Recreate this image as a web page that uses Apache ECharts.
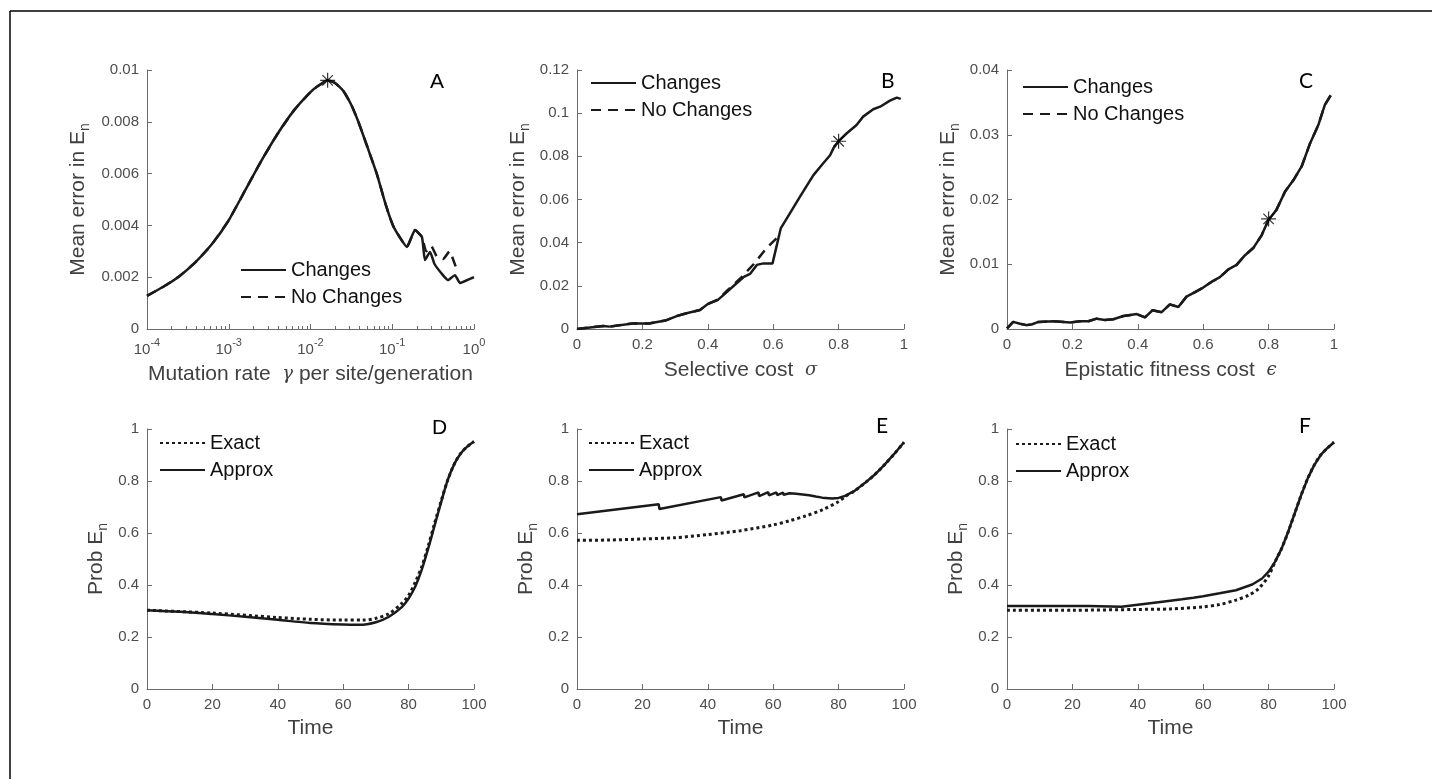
<!DOCTYPE html>
<html>
<head>
<meta charset="utf-8">
<script src="https://cdn.jsdelivr.net/npm/echarts@6/dist/echarts.min.js"></script>
<style>
html,body{margin:0;padding:0;background:#fff;}
#chart{width:1432px;height:779px;}
</style>
</head>
<body>
<div id="chart"></div>
<script>
// ---------------- DATA ----------------
// Panel A: mean error vs mutation rate (log x)
var aGamma      = [1e-4, 1.585e-4, 2.512e-4, 3.981e-4, 6.31e-4, 1e-3, 1.585e-3, 2.512e-3, 3.981e-3, 6.31e-3, 0.01, 0.01259, 0.0162, 0.01995, 0.0251, 0.0316, 0.0385, 0.05, 0.0646, 0.0832, 0.102, 0.126, 0.151, 0.19, 0.231, 0.251, 0.29, 0.33, 0.417, 0.48, 0.585, 0.674, 0.945, 1.0];
var aChanges    = [0.00128, 0.00163, 0.00205, 0.00260, 0.00330, 0.00420, 0.00535, 0.00650, 0.00755, 0.00845, 0.00915, 0.00940, 0.0096, 0.0095, 0.0092, 0.00865, 0.0080, 0.0070, 0.0060, 0.0048, 0.0040, 0.0035, 0.00317, 0.00382, 0.00355, 0.00266, 0.00297, 0.0025, 0.00208, 0.00189, 0.00208, 0.00178, 0.00197, 0.0020];
var aGammaNC    = [1e-4, 1.585e-4, 2.512e-4, 3.981e-4, 6.31e-4, 1e-3, 1.585e-3, 2.512e-3, 3.981e-3, 6.31e-3, 0.01, 0.01259, 0.0162, 0.01995, 0.0251, 0.0316, 0.0385, 0.05, 0.0646, 0.0832, 0.102, 0.126, 0.151, 0.19, 0.231, 0.26, 0.3, 0.35, 0.42, 0.5, 0.6, 0.65];
var aNoChanges  = [0.00128, 0.00163, 0.00205, 0.00260, 0.00330, 0.00420, 0.00535, 0.00650, 0.00755, 0.00845, 0.00915, 0.00940, 0.0096, 0.0095, 0.0092, 0.00865, 0.0080, 0.0070, 0.0060, 0.0048, 0.0040, 0.0035, 0.00317, 0.00382, 0.00355, 0.0030, 0.0032, 0.0028, 0.0027, 0.0030, 0.0024, 0.0022];
var aStar       = [0.0162, 0.0096];

// Panel B: mean error vs selective cost
var bSigma      = [0, 0.08, 0.1, 0.17, 0.22, 0.27, 0.305, 0.335, 0.376, 0.4, 0.43, 0.458, 0.488, 0.509, 0.529, 0.55, 0.57, 0.598, 0.623, 0.651, 0.682, 0.723, 0.753, 0.774, 0.784, 0.8, 0.825, 0.855, 0.875, 0.906, 0.927, 0.957, 0.978, 0.99];
var bChanges    = [0, 0.0014, 0.0011, 0.0026, 0.0025, 0.0039, 0.006, 0.0073, 0.0088, 0.0116, 0.0134, 0.0171, 0.0212, 0.024, 0.0255, 0.0297, 0.0304, 0.0304, 0.0466, 0.0536, 0.0613, 0.0713, 0.0768, 0.0805, 0.0837, 0.087, 0.0907, 0.0945, 0.0984, 0.1018, 0.103, 0.1058, 0.1072, 0.1066];
var bSigmaNC    = [0, 0.08, 0.1, 0.17, 0.22, 0.27, 0.305, 0.335, 0.376, 0.4, 0.43, 0.458, 0.5, 0.54, 0.58, 0.61];
var bNoChanges  = [0, 0.0014, 0.0011, 0.0026, 0.0025, 0.0039, 0.006, 0.0073, 0.0088, 0.0116, 0.0136, 0.0176, 0.0235, 0.0300, 0.0375, 0.042];
var bStar       = [0.8, 0.087];

// Panel C: mean error vs epistatic fitness cost
var cEps        = [0, 0.019, 0.04, 0.06, 0.075, 0.096, 0.142, 0.193, 0.223, 0.249, 0.274, 0.3, 0.325, 0.356, 0.397, 0.422, 0.445, 0.473, 0.498, 0.524, 0.549, 0.575, 0.6, 0.626, 0.651, 0.677, 0.702, 0.728, 0.753, 0.779, 0.799, 0.824, 0.85, 0.876, 0.901, 0.927, 0.952, 0.972, 0.99];
var cChanges    = [0.0001, 0.0011, 0.0008, 0.0006, 0.0007, 0.0011, 0.0012, 0.0010, 0.0012, 0.0012, 0.0016, 0.0014, 0.0015, 0.0020, 0.0023, 0.0018, 0.0029, 0.0026, 0.0038, 0.0034, 0.0050, 0.0057, 0.0064, 0.0073, 0.0080, 0.0092, 0.0099, 0.0114, 0.0125, 0.0145, 0.0168, 0.0184, 0.0212, 0.0230, 0.0251, 0.0287, 0.0315, 0.0346, 0.0361];
var cNoChanges  = cChanges.slice();
var cStar       = [0.8, 0.017];

// Panel D
var dTimeApprox = [0, 10, 20, 30, 40, 50, 60, 65, 70, 74, 78, 80, 82, 84, 86, 88, 90, 92, 94, 96, 98, 100];
var dApprox     = [0.303, 0.297, 0.288, 0.278, 0.266, 0.254, 0.248, 0.247, 0.257, 0.278, 0.316, 0.348, 0.393, 0.458, 0.541, 0.631, 0.721, 0.805, 0.866, 0.907, 0.933, 0.952];
var dTimeExact  = [0, 20, 40, 50, 60, 66, 70, 74, 78, 80, 82, 84, 86, 88, 90, 92, 94, 96, 98, 100];
var dExact      = [0.303, 0.292, 0.275, 0.268, 0.265, 0.265, 0.272, 0.290, 0.330, 0.360, 0.410, 0.470, 0.550, 0.640, 0.725, 0.805, 0.866, 0.907, 0.933, 0.952];

// Panel E
var eTimeApprox = [0, 25, 25.2, 44, 44.2, 51, 51.2, 55.5, 55.7, 58.5, 58.7, 61, 61.2, 63, 63.2, 65, 65.2, 67, 67.2, 69, 69.2, 71, 71.2, 73, 75, 78, 80, 82, 85, 88, 91, 94, 97, 100];
var eApprox     = [0.672, 0.711, 0.692, 0.738, 0.725, 0.749, 0.737, 0.756, 0.742, 0.757, 0.745, 0.756, 0.746, 0.755, 0.747, 0.753, 0.746, 0.751, 0.745, 0.748, 0.742, 0.745, 0.740, 0.740, 0.736, 0.733, 0.735, 0.743, 0.763, 0.792, 0.824, 0.862, 0.904, 0.949];
var eTimeExact  = [0, 10, 20, 30, 40, 50, 60, 65, 70, 75, 80, 82, 85, 88, 91, 94, 97, 100];
var eExact      = [0.572, 0.573, 0.577, 0.582, 0.594, 0.609, 0.631, 0.647, 0.666, 0.689, 0.721, 0.740, 0.763, 0.792, 0.824, 0.862, 0.904, 0.949];

// Panel F
var fTimeApprox = [0, 25, 25.2, 35, 40, 47.5, 47.7, 53.5, 53.7, 57, 57.2, 60, 65, 70, 75, 78, 80, 82, 84, 86, 88, 90, 92, 94, 96, 98, 100];
var fApprox     = [0.319, 0.319, 0.313, 0.316, 0.324, 0.336, 0.331, 0.345, 0.340, 0.351, 0.347, 0.357, 0.368, 0.380, 0.402, 0.425, 0.451, 0.490, 0.541, 0.605, 0.676, 0.747, 0.811, 0.862, 0.901, 0.927, 0.949];
var fTimeExact  = [0, 20, 40, 50, 60, 65, 70, 74, 77, 80, 82, 84, 86, 88, 90, 92, 94, 96, 98, 100];
var fExact      = [0.303, 0.303, 0.306, 0.308, 0.316, 0.325, 0.342, 0.361, 0.387, 0.435, 0.490, 0.541, 0.605, 0.676, 0.747, 0.811, 0.862, 0.901, 0.927, 0.949];

// Tick values
var logMajorTicks = [1e-4, 1e-3, 1e-2, 1e-1, 1];
var logMinorTicks = [];
[1e-4, 1e-3, 1e-2, 1e-1].forEach(function (d) { for (var k = 2; k <= 9; k++) logMinorTicks.push(d * k); });

var panelLetters = ['A', 'B', 'C', 'D', 'E', 'F'];

// ---------------- HELPERS ----------------
function zip(xs, ys) { return xs.map(function (x, i) { return [x, ys[i]]; }); }

var INK = '#1a1a1a';
var AXC = '#6b6b6b';
var TICKC = '#4d4d4d';
var FONT = '"Liberation Sans", Arial, Helvetica, sans-serif';
var NAMEC = '#404040';
var NAMESIZE = 21;

var grids = [
  { left: 147, top: 70, width: 327, height: 259 },
  { left: 577, top: 70, width: 327, height: 259 },
  { left: 1007, top: 70, width: 327, height: 259 },
  { left: 147, top: 429, width: 327, height: 260 },
  { left: 577, top: 429, width: 327, height: 260 },
  { left: 1007, top: 429, width: 327, height: 260 }
];

function baseAxis(extra) {
  var a = {
    axisLine: { show: true, onZero: false, lineStyle: { color: AXC, width: 1 } },
    axisTick: { show: true, inside: true, length: 5, lineStyle: { color: AXC, width: 1 } },
    axisLabel: { color: TICKC, fontSize: 15, fontFamily: FONT, margin: 8 },
    splitLine: { show: false },
    nameTextStyle: { color: NAMEC, fontSize: NAMESIZE, fontFamily: FONT },
    nameLocation: 'middle'
  };
  for (var k in extra) a[k] = extra[k];
  return a;
}

var greek = { fontFamily: '"DejaVu Serif", serif', fontStyle: 'italic', fontSize: 18, color: NAMEC };
var mStyle = { fontSize: NAMESIZE, color: NAMEC, fontFamily: FONT };
var yRich = {
  m: { fontSize: NAMESIZE, color: NAMEC, fontFamily: FONT, lineHeight: 27, verticalAlign: 'middle' },
  s: { fontSize: 14, color: NAMEC, fontFamily: FONT, lineHeight: 14, verticalAlign: 'bottom' }
};

var xAxes = [
  baseAxis({ gridIndex: 0, type: 'log', logBase: 10, min: 1e-4, max: 1,
    name: '{m|Mutation rate  }{g|γ}{m| per site/generation}', nameGap: 35,
    nameTextStyle: { rich: { m: mStyle, g: greek } },
    axisLabel: { color: TICKC, fontSize: 15, fontFamily: FONT, margin: 8,
      formatter: function (v) { var e = Math.round(Math.log10(v)); return '{b|10}{s|' + e + '}'; },
      rich: { b: { fontSize: 15, color: TICKC, fontFamily: FONT, lineHeight: 20, verticalAlign: 'bottom' },
              s: { fontSize: 11, color: TICKC, fontFamily: FONT, lineHeight: 11, verticalAlign: 'top' } } },
    axisTick: { show: true, inside: true, length: 5, lineStyle: { color: AXC, width: 1 }, customValues: logMajorTicks },
    minorTick: { show: false } }),
  baseAxis({ gridIndex: 1, type: 'value', min: 0, max: 1, interval: 0.2,
    name: '{m|Selective cost  }{g|σ}', nameGap: 31,
    nameTextStyle: { rich: { m: mStyle, g: greek } } }),
  baseAxis({ gridIndex: 2, type: 'value', min: 0, max: 1, interval: 0.2,
    name: '{m|Epistatic fitness cost  }{g|ϵ}', nameGap: 31,
    nameTextStyle: { rich: { m: mStyle, g: greek } } }),
  baseAxis({ gridIndex: 3, type: 'value', min: 0, max: 100, interval: 20, name: 'Time', nameGap: 29 }),
  baseAxis({ gridIndex: 4, type: 'value', min: 0, max: 100, interval: 20, name: 'Time', nameGap: 29 }),
  baseAxis({ gridIndex: 5, type: 'value', min: 0, max: 100, interval: 20, name: 'Time', nameGap: 29 }),
  // minor ticks for log axis
  { gridIndex: 0, type: 'log', logBase: 10, min: 1e-4, max: 1, position: 'bottom',
    axisLine: { show: false }, axisLabel: { show: false }, splitLine: { show: false },
    axisTick: { show: true, inside: true, length: 3, lineStyle: { color: AXC, width: 1 }, customValues: logMinorTicks } }
];

function yName(t) { return '{m|' + t + '}{s|n}'; }
var yAxes = [
  baseAxis({ gridIndex: 0, type: 'value', min: 0, max: 0.01, interval: 0.002, name: yName('Mean error in E'), nameGap: 55, nameTextStyle: { rich: yRich } }),
  baseAxis({ gridIndex: 1, type: 'value', min: 0, max: 0.12, interval: 0.02, name: yName('Mean error in E'), nameGap: 45, nameTextStyle: { rich: yRich } }),
  baseAxis({ gridIndex: 2, type: 'value', min: 0, max: 0.04, interval: 0.01, name: yName('Mean error in E'), nameGap: 45, nameTextStyle: { rich: yRich } }),
  baseAxis({ gridIndex: 3, type: 'value', min: 0, max: 1, interval: 0.2, name: yName('Prob E'), nameGap: 37, nameTextStyle: { rich: yRich } }),
  baseAxis({ gridIndex: 4, type: 'value', min: 0, max: 1, interval: 0.2, name: yName('Prob E'), nameGap: 37, nameTextStyle: { rich: yRich } }),
  baseAxis({ gridIndex: 5, type: 'value', min: 0, max: 1, interval: 0.2, name: yName('Prob E'), nameGap: 37, nameTextStyle: { rich: yRich } })
];

function line(name, xi, yi, data, type, smooth, z, w) {
  return {
    name: name, type: 'line', xAxisIndex: xi, yAxisIndex: yi, data: data,
    showSymbol: false, symbol: 'none', smooth: smooth || false, silent: true, z: z || 2,
    lineStyle: { color: INK, width: w || 2.5, type: type }, itemStyle: { color: INK }
  };
}
var STAR = 'path://M10,0L10,20M0,10L20,10M3,3L17,17M3,17L17,3';
function star(xi, yi, p) {
  return { name: 'peak', type: 'scatter', xAxisIndex: xi, yAxisIndex: yi, data: [p], symbol: STAR, symbolSize: 15,
    silent: true, z: 5, itemStyle: { color: 'rgba(0,0,0,0)', borderColor: '#000', borderWidth: 1.2 } };
}
var DASH = [10, 7];
var DOT = [3, 3];

var series = [
  line('No Changes', 0, 0, zip(aGammaNC, aNoChanges), DASH, 0.15, 2),
  line('Changes', 0, 0, zip(aGamma, aChanges), 'solid', 0.15, 3),
  star(0, 0, aStar),
  line('No Changes', 1, 1, zip(bSigmaNC, bNoChanges), DASH, false, 2),
  line('Changes', 1, 1, zip(bSigma, bChanges), 'solid', false, 3),
  star(1, 1, bStar),
  line('No Changes', 2, 2, zip(cEps, cNoChanges), DASH, false, 2),
  line('Changes', 2, 2, zip(cEps, cChanges), 'solid', false, 3),
  star(2, 2, cStar),
  line('Exact', 3, 3, zip(dTimeExact, dExact), DOT, 0.3, 3, 3),
  line('Approx', 3, 3, zip(dTimeApprox, dApprox), 'solid', 0.3, 2),
  line('Exact', 4, 4, zip(eTimeExact, eExact), DOT, 0.3, 3, 3),
  line('Approx', 4, 4, zip(eTimeApprox, eApprox), 'solid', false, 2),
  line('Exact', 5, 5, zip(fTimeExact, fExact), DOT, 0.3, 3, 3),
  line('Approx', 5, 5, zip(fTimeApprox, fApprox), 'solid', false, 2)
];

function legend(names, left, top) {
  return {
    data: names, left: left, top: top, orient: 'vertical', padding: 0,
    itemWidth: 45, itemHeight: 14, itemGap: 5, selectedMode: false,
    itemStyle: { opacity: 0, borderWidth: 0 },
    textStyle: { fontSize: 20, color: '#111', fontFamily: FONT, lineHeight: 22, padding: [0, 0, 0, 0] },
    backgroundColor: 'transparent'
  };
}
var legends = [
  legend(['Changes', 'No Changes'], 240, 259),
  legend(['Changes', 'No Changes'], 590, 72),
  legend(['Changes', 'No Changes'], 1022, 76),
  legend(['Exact', 'Approx'], 159, 432),
  legend(['Exact', 'Approx'], 588, 432),
  legend(['Exact', 'Approx'], 1015, 433)
];

var LATO = '"Lato", "Open Sans", sans-serif';
var letterPos = [[430, 72, FONT], [881, 71, LATO], [1299, 71, LATO],
                 [432, 418, FONT], [876, 416, LATO], [1299, 416, LATO]];
var graphics = [
  { type: 'line', shape: { x1: 10, y1: 11, x2: 1432, y2: 11 }, style: { stroke: '#000', lineWidth: 1.5 } },
  { type: 'line', shape: { x1: 10, y1: 11, x2: 10, y2: 779 }, style: { stroke: '#000', lineWidth: 1.5 } }
];
panelLetters.forEach(function (L, i) {
  graphics.push({ type: 'text', left: letterPos[i][0], top: letterPos[i][1],
    style: { text: L, fontSize: 21, fill: '#000', fontFamily: letterPos[i][2] } });
});

var chart = echarts.init(document.getElementById('chart'), null, { renderer: 'canvas' });
chart.setOption({
  animation: false,
  backgroundColor: '#fff',
  grid: grids,
  xAxis: xAxes,
  yAxis: yAxes,
  legend: legends,
  series: series,
  graphic: graphics
});
</script>
</body>
</html>
